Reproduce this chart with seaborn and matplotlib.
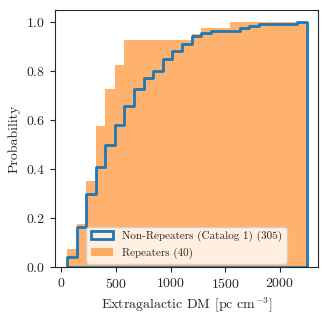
import numpy as np
import pandas as pd
import matplotlib.pyplot as plt
import seaborn as sns

# Rango de DM extragalactico y numero de bins (25 bins iguales)
dm_min, dm_max = 51, 2245
n_bins = 25
bordes = np.linspace(dm_min, dm_max, n_bins + 1).tolist()
centros = [(a + b) / 2 for a, b in zip(bordes[:-1], bordes[1:])]

# Cuentas por bin
cuentas_no_repetidores = [13, 37, 41, 33, 28, 25, 23, 21, 14, 9, 15, 10, 9,
                          10, 3, 3, 0, 0, 3, 3, 2, 1, 0, 0, 2]
cuentas_repetidores = [3, 4, 7, 9, 6, 4, 4, 0, 0, 0, 0, 0, 0,
                       1, 1, 0, 0, 1, 0, 0, 0, 0, 0, 0, 0]

etiqueta_no_rep = f"Non-Repeaters (Catalog 1) ({sum(cuentas_no_repetidores)})"
etiqueta_rep = f"Repeaters ({sum(cuentas_repetidores)})"

df_no_rep = pd.DataFrame({"dm": centros, "n": cuentas_no_repetidores})
df_rep = pd.DataFrame({"dm": centros, "n": cuentas_repetidores})

sns.set_style("ticks")
plt.rcParams["font.family"] = "serif"
plt.rcParams["font.serif"] = ["cmr10"]
plt.rcParams["mathtext.fontset"] = "cm"
plt.rcParams["axes.formatter.use_mathtext"] = True
plt.rcParams["font.size"] = 10

fig, ax = plt.subplots(figsize=(3.29, 3.19), dpi=100)
fig.subplots_adjust(left=0.167, right=0.967, bottom=0.163, top=0.969)

# Repetidores: distribucion acumulada rellena
sns.histplot(data=df_rep, x="dm", weights="n", bins=bordes, cumulative=True,
             stat="probability", element="step", fill=True, color="C1",
             alpha=0.6, linewidth=0, label=etiqueta_rep, ax=ax)

# No repetidores: contorno escalonado (sin relleno)
sns.histplot(data=df_no_rep, x="dm", weights="n", bins=bordes, cumulative=True,
             stat="probability", element="step", fill=True, color="C0",
             facecolor="none", edgecolor="C0", linewidth=2,
             label=etiqueta_no_rep, ax=ax)

ax.set_xlim(-59, 2350)
ax.set_ylim(0, 1.049)
ax.set_xticks([0, 500, 1000, 1500, 2000])
ax.set_yticks([0.0, 0.2, 0.4, 0.6, 0.8, 1.0])
ax.set_xlabel(r"Extragalactic DM [pc cm$^{-3}$]")
ax.set_ylabel("Probability")

handles, labels = ax.get_legend_handles_labels()
ax.legend(handles[::-1], labels[::-1], loc="lower center", fontsize=8,
          borderaxespad=0.3)

plt.savefig("out.png", dpi=100)
